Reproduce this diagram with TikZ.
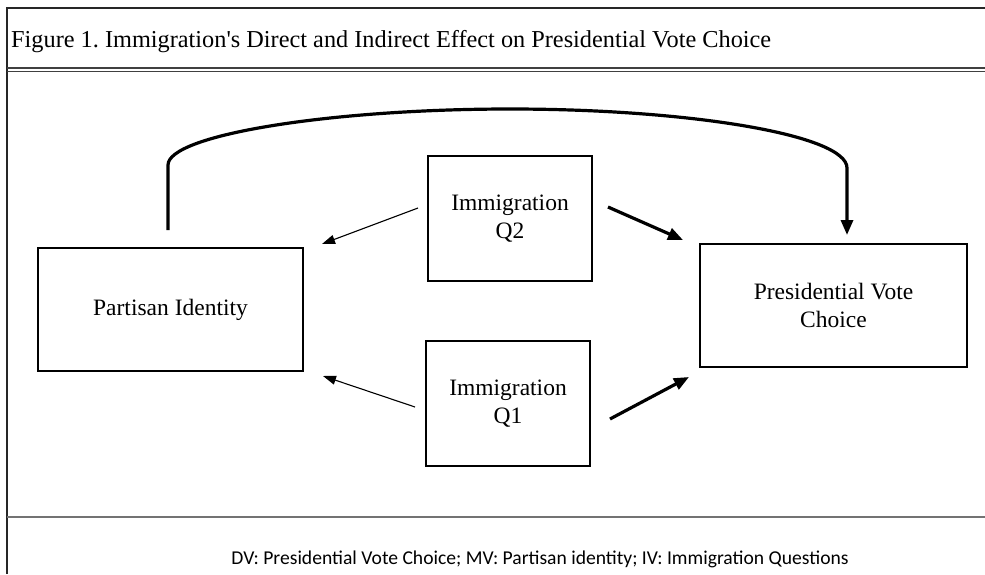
\documentclass[tikz,border=0pt]{standalone}
\usepackage{fontspec}
\setmainfont{Liberation Serif}
\newfontfamily\notefont{Carlito}
\usetikzlibrary{calc}
\usetikzlibrary{arrows.meta}
\tikzset{>={Triangle[length=13pt,width=9pt]}}
\tikzset{varbox/.style={draw, line width=1.8pt, inner sep=0pt, outer sep=0pt, align=center, font=\fontsize{23.5}{28.5}\selectfont}}
\tikzset{weakpath/.style={->, line width=1.1pt}}
\tikzset{strongpath/.style={-{Triangle[length=15pt,width=12pt]}, line width=3.2pt}}

\begin{document}
\begin{tikzpicture}[x=1pt, y=-1pt]
\useasboundingbox (0,0) rectangle (985,574);
% frame
\draw[line width=2pt, black!85] (7,574) -- (7,8) -- (985,8);
\draw[line width=1.5pt, black!75] (7,68) -- (985,68);
\draw[line width=1.5pt, black!75] (7,71.5) -- (985,71.5);
\draw[line width=1.4pt, black!55] (7,517) -- (985,517);
\node[anchor=base west, inner sep=0pt, font=\fontsize{24.3}{28}\selectfont] (title) at (11,47) {Figure 1.\ Immigration\textquotesingle s Direct and Indirect Effect on Presidential Vote Choice};
\node[anchor=base, inner sep=0pt, font=\notefont\fontsize{19.6}{24}\selectfont] (note) at (540,564) {DV: Presidential Vote Choice; MV: Partisan identity; IV: Immigration Questions};
% boxes
\node[varbox, minimum width=265pt, minimum height=123pt] (partisan) at (170.5,309.5) {Partisan Identity};
\node[varbox, minimum width=164pt, minimum height=125pt] (q2) at (510,218.5) {Immigration\\Q2};
\node[varbox, minimum width=164pt, minimum height=125pt] (q1) at (508,403.5) {Immigration\\Q1};
\node[varbox, minimum width=267pt, minimum height=123pt] (pres) at (833.5,305.5) {Presidential Vote\\Choice};
% paths
\draw[strongpath] ($(partisan.north)+(-2.5,-18)$) -- ++(0,-65) .. controls ++(0,-30) and (330,109) .. (510,109) .. controls (690,109) and (847,135) .. (847,168) -- ($(pres.north)+(13.5,-9)$);
\draw[weakpath] ($(q2.west)+(-10,-10.5)$) -- ($(partisan.north east)+(19,-4)$);
\draw[weakpath] ($(q1.west)+(-11,3.5)$) -- ($(partisan.south east)+(20,5)$);
\draw[strongpath] ($(q2.east)+(16,-11.5)$) -- ($(pres.north west)+(-17,-4)$);
\draw[strongpath] ($(q1.east)+(20,15.5)$) -- ($(pres.south west)+(-11,10)$);
\end{tikzpicture}
\end{document}
